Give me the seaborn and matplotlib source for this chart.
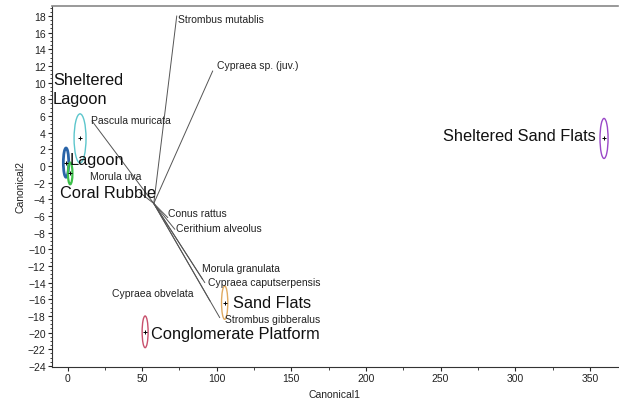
import numpy as np
import pandas as pd
import matplotlib
matplotlib.use("Agg")
import matplotlib.pyplot as plt
from matplotlib.patches import Ellipse
from matplotlib.ticker import MultipleLocator
import seaborn as sns

# group centroids and confidence ellipses (canonical scores)
groups = ["Sheltered Lagoon", "Lagoon", "Coral Rubble", "Sand Flats",
          "Conglomerate Platform", "Sheltered Sand Flats"]
group_x = [8.4, -1.0, 1.8, 105.3, 52.0, 359.5]
group_y = [3.3, 0.4, -0.9, -16.4, -19.9, 3.3]
ell_w = [8.0, 3.6, 3.0, 4.2, 4.0, 5.4]
ell_h = [5.9, 3.5, 2.6, 4.0, 3.8, 4.8]
group_colors = ["#5cc6cc", "#2a64a8", "#3cc04a", "#e0aa60", "#c8506c", "#9a48c8"]
group_lw = [1.0, 2.0, 1.6, 1.0, 1.0, 1.0]
group_labels = ["Sheltered\nLagoon", "Lagoon", "Coral Rubble", "Sand Flats",
                "Conglomerate Platform", "Sheltered Sand Flats"]
glabel_x = [-9.7, 1.7, -5.0, 110.6, 55.8, 354.0]
glabel_y = [9.2, 0.8, -3.2, -16.4, -20.1, 3.6]
glabel_ha = ["left", "left", "left", "left", "left", "right"]

# biplot rays for species
ray_origin = (57.8, -4.5)
species = ["Strombus mutablis", "Cypraea sp. (juv.)", "Pascula muricata", "Morula uva",
           "Conus rattus", "Cerithium alveolus", "Morula granulata",
           "Cypraea caputserpensis", "Cypraea obvelata", "Strombus gibberalus"]
ray_x = [73.2, 97.3, 16.4, 48.5, 67.2, 71.9, 90.5, 92.0, 95.5, 102.0]
ray_y = [18.0, 11.4, 5.4, -3.2, -6.2, -7.6, -13.6, -14.0, -16.2, -18.2]
slabel_x = [73.9, 100.0, 15.7, 15.0, 67.2, 72.5, 90.0, 94.0, 84.6, 105.3]
slabel_y = [17.6, 12.1, 5.5, -1.2, -5.7, -7.5, -12.3, -13.9, -15.2, -18.4]
slabel_ha = ["left"] * 8 + ["right", "left"]

cent = pd.DataFrame({"Canonical1": group_x, "Canonical2": group_y, "group": groups})

sns.set_style("ticks")
plt.rcParams["font.family"] = ["Liberation Sans", "DejaVu Sans"]
fig = plt.figure(figsize=(6.19, 4.06), dpi=100)
ax = fig.add_axes([0.084, 0.094, 0.914, 0.889])

for i in range(len(species)):
    ax.plot([ray_origin[0], ray_x[i]], [ray_origin[1], ray_y[i]],
            color="#555555", lw=0.7, zorder=1)
    ax.text(slabel_x[i], slabel_y[i], species[i], fontsize=7.5, ha=slabel_ha[i],
            va="center", color="#222222")

for i in range(len(groups)):
    ax.add_patch(Ellipse((group_x[i], group_y[i]), ell_w[i], ell_h[i], fill=False,
                         edgecolor=group_colors[i], lw=group_lw[i], zorder=2))
    ax.text(glabel_x[i], glabel_y[i], group_labels[i], fontsize=11.8,
            ha=glabel_ha[i], va="center", color="#111111", linespacing=1.35,
            fontweight="medium")

sns.scatterplot(data=cent, x="Canonical1", y="Canonical2", marker="+", color="black",
                s=12, linewidth=0.7, ax=ax, zorder=3, legend=False)

ax.set_xlim(-10.4, 368.7)
ax.set_ylim(-24.1, 19.2)
ax.xaxis.set_major_locator(MultipleLocator(50))
ax.xaxis.set_minor_locator(MultipleLocator(25))
ax.yaxis.set_major_locator(MultipleLocator(2))
ax.yaxis.set_minor_locator(MultipleLocator(0.5))
ax.tick_params(axis="both", which="major", labelsize=7.5, length=3, width=0.8, pad=1.5,
               labelcolor="#222222")
ax.tick_params(axis="both", which="minor", length=1.8, width=0.6)
ax.set_xlabel("Canonical1", fontsize=7.5, color="#222222", labelpad=4)
ax.set_ylabel("Canonical2", fontsize=7.5, color="#222222", labelpad=2)

ax.spines["right"].set_visible(False)
ax.spines["top"].set_color("#888888")
ax.spines["top"].set_linewidth(1.2)
ax.spines["left"].set_color("#333333")
ax.spines["bottom"].set_color("#333333")

fig.savefig("out.png", dpi=100)
